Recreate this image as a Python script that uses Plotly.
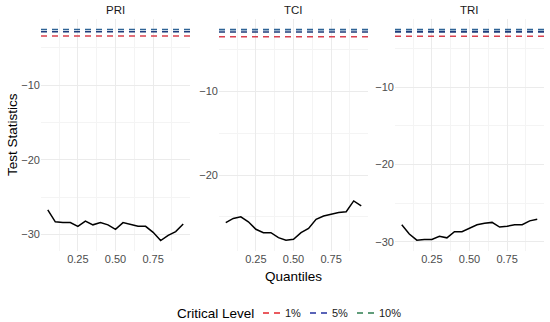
import plotly.graph_objects as go

quantiles = [0.05, 0.10, 0.15, 0.20, 0.25, 0.30, 0.35, 0.40, 0.45, 0.50,
             0.55, 0.60, 0.65, 0.70, 0.75, 0.80, 0.85, 0.90, 0.95]
pri = [-26.7, -28.3, -28.4, -28.4, -28.9, -28.2, -28.7, -28.4, -28.7, -29.3,
       -28.4, -28.7, -28.9, -28.9, -29.7, -30.8, -30.1, -29.6, -28.6]
tci = [-25.7, -25.2, -25.0, -25.6, -26.5, -26.9, -26.9, -27.5, -27.8, -27.7,
       -26.9, -26.4, -25.3, -24.9, -24.7, -24.5, -24.4, -23.1, -23.7]
tri = [-27.8, -29.0, -29.8, -29.7, -29.7, -29.3, -29.5, -28.7, -28.7, -28.2,
       -27.8, -27.6, -27.5, -28.1, -28.0, -27.8, -27.8, -27.3, -27.1]
panels = ["PRI", "TCI", "TRI"]
series = [pri, tci, tri]
crit_levels = ["1%", "5%", "10%"]
crit_values = [-3.43, -2.86, -2.57]
crit_colors = ["#D8404E", "#1F3C7A", "#2F6496"]
legend_key_colors = ["#E3242B", "#2330A0", "#2E7D4F"]
x_ticks = [0.25, 0.50, 0.75]
x_tick_labels = ["0.25", "0.50", "0.75"]
y_ticks = [-10, -20, -30]
y_tick_labels = ["−10", "−20", "−30"]

W, H = 550, 322
x_domains_px = [(41, 190), (219, 368), (395, 544)]
y_domain_px = (19, 251)
y_ranges = [[-32.2, -1.16], [-29.1, -1.3], [-31.2, -1.2]]
x_range = [0.005, 0.995]

FONT = "Liberation Sans, Arial, sans-serif"
fig = go.Figure()
grid_major = "#EBEBEB"
grid_minor = "#F4F4F4"
tick_font = dict(family=FONT, size=11, color="#4D4D4D")


def px_x(p):
    return p / W


def px_y(p):
    return 1 - p / H


for i, (name, vals) in enumerate(zip(panels, series)):
    xa = "x" if i == 0 else f"x{i+1}"
    ya = "y" if i == 0 else f"y{i+1}"
    for lvl, cv, col in zip(crit_levels, crit_values, crit_colors):
        fig.add_trace(go.Scatter(
            x=x_range, y=[cv, cv], mode="lines", xaxis=xa, yaxis=ya,
            line=dict(color=col, width=1.6, dash="6px,5px"),
            name=lvl, showlegend=False, hoverinfo="skip"))
    fig.add_trace(go.Scatter(
        x=quantiles, y=vals, mode="lines", xaxis=xa, yaxis=ya,
        line=dict(color="black", width=1.5), showlegend=False))

    x0, x1 = x_domains_px[i]
    xkey = "xaxis" if i == 0 else f"xaxis{i+1}"
    ykey = "yaxis" if i == 0 else f"yaxis{i+1}"
    fig.layout[xkey] = dict(
        domain=[px_x(x0), px_x(x1)], range=x_range, anchor=ya, automargin=False,
        tickvals=x_ticks, ticktext=x_tick_labels, tickfont=tick_font,
        showgrid=True, gridcolor=grid_major, gridwidth=1, zeroline=False,
        showline=False, ticks="", ticklen=0,
        minor=dict(tickvals=[0.125, 0.375, 0.625, 0.875], showgrid=True,
                   gridcolor=grid_minor, gridwidth=1))
    fig.layout[ykey] = dict(
        domain=[px_y(y_domain_px[1]), px_y(y_domain_px[0])],
        range=y_ranges[i], anchor=xa, automargin=False,
        tickvals=y_ticks, ticktext=y_tick_labels, tickfont=tick_font,
        showgrid=True, gridcolor=grid_major, gridwidth=1, zeroline=False,
        showline=False, ticks="", ticklen=0,
        minor=dict(tickvals=[-5, -15, -25], showgrid=True,
                   gridcolor=grid_minor, gridwidth=1))
    fig.add_annotation(text=name, x=px_x((x0 + x1) / 2), y=px_y(10),
                       xref="paper", yref="paper", showarrow=False,
                       xanchor="center", yanchor="middle",
                       font=dict(family=FONT, size=11.5, color="#1A1A1A"))

fig.add_annotation(text="Test Statistics", x=px_x(12), y=px_y(135),
                   xref="paper", yref="paper", showarrow=False, textangle=-90,
                   xanchor="center", yanchor="middle",
                   font=dict(family=FONT, size=13.5, color="black"))
fig.add_annotation(text="Quantiles", x=px_x(293), y=px_y(276),
                   xref="paper", yref="paper", showarrow=False,
                   xanchor="center", yanchor="middle",
                   font=dict(family=FONT, size=13.5, color="black"))

# Manual legend (ggplot-style, bottom)
leg_y = px_y(313)
fig.add_annotation(text="Critical Level", x=px_x(256), y=leg_y, xref="paper",
                   yref="paper", xanchor="right", yanchor="middle", showarrow=False,
                   font=dict(family=FONT, size=13.5, color="black"))
key_x = [263, 310, 357]
lab_x = [283, 330, 377]
for kx, lx, lvl, col in zip(key_x, lab_x, crit_levels, legend_key_colors):
    fig.add_shape(type="line", xref="paper", yref="paper",
                  x0=px_x(kx), x1=px_x(kx + 17), y0=leg_y, y1=leg_y,
                  line=dict(color=col, width=1.3, dash="6px,5px"))
    fig.add_annotation(text=lvl, x=px_x(lx), y=leg_y, xref="paper",
                       yref="paper", xanchor="left", yanchor="middle",
                       showarrow=False,
                       font=dict(family=FONT, size=11, color="#1A1A1A"))

fig.update_layout(
    width=W, height=H, margin=dict(l=0, r=0, t=0, b=0, pad=0, autoexpand=False),
    paper_bgcolor="white", plot_bgcolor="white", showlegend=False,
)

fig.write_html("out.html", config={"displayModeBar": False},
               post_script="document.body.style.margin='0';"
                           "document.documentElement.style.overflow='hidden';")
